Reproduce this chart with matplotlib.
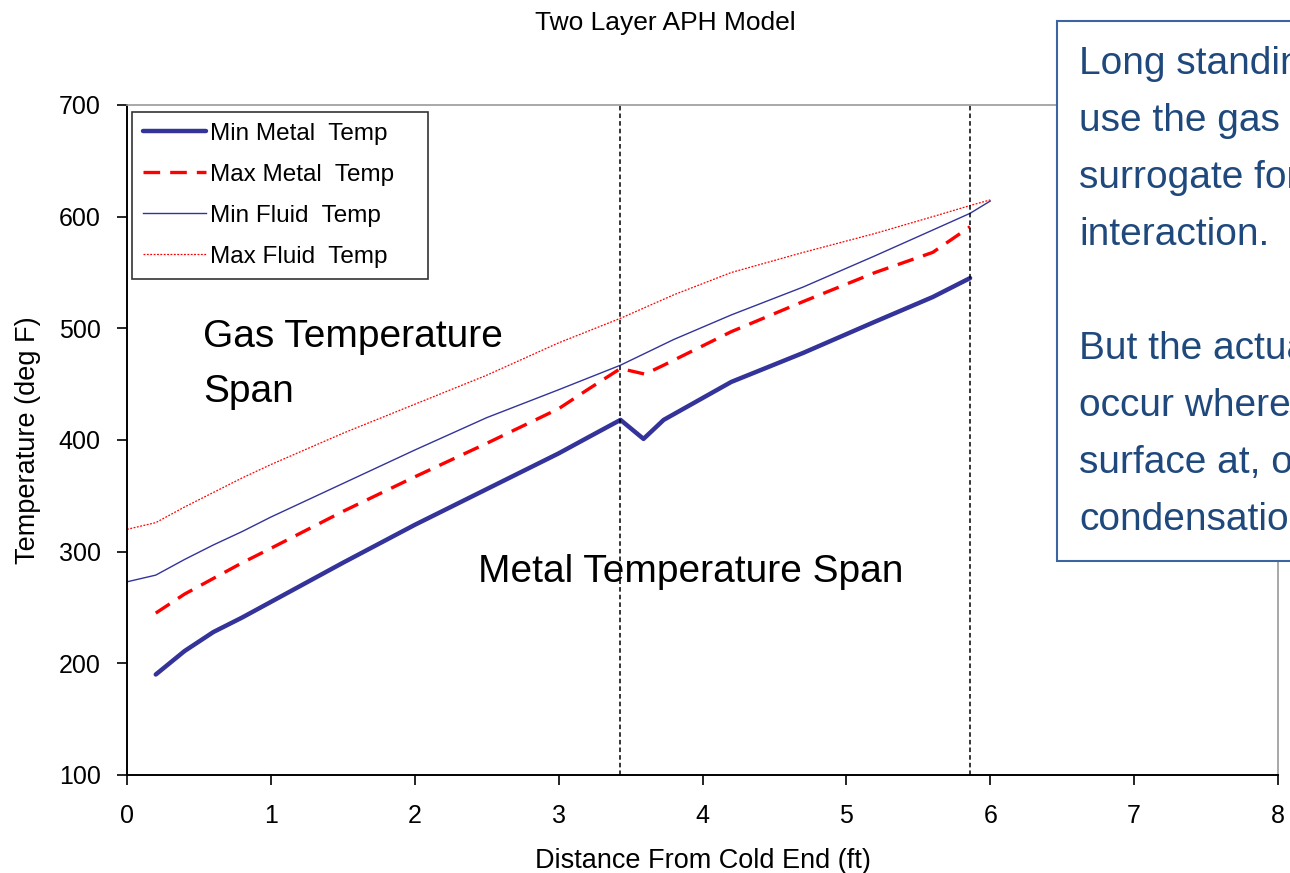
import matplotlib.pyplot as plt
from matplotlib.patches import Rectangle

plt.rcParams['font.family'] = ['Liberation Sans', 'DejaVu Sans']

# data
x_min_metal = [0.2, 0.4, 0.6, 0.8, 1.0, 1.5, 2.0, 2.5, 3.0, 3.2, 3.43, 3.59, 3.73, 4.2, 4.7, 5.2, 5.6, 5.86]
min_metal = [190, 211, 228, 241, 255, 290, 324, 356, 388, 402, 418, 401, 418, 452, 478, 506, 528, 545]

x_max_metal = [0.2, 0.4, 0.6, 0.8, 1.0, 1.5, 2.0, 2.5, 3.0, 3.2, 3.43, 3.6, 3.73, 4.2, 4.7, 5.2, 5.6, 5.86]
max_metal = [245, 262, 276, 290, 303, 336, 367, 397, 428, 445, 464, 459, 467, 497, 524, 550, 568, 591]

x_fluid = [0.0, 0.2, 0.4, 0.6, 0.8, 1.0, 1.5, 2.0, 2.5, 3.0, 3.43, 3.8, 4.2, 4.7, 5.2, 5.6, 5.86, 6.0]
min_fluid = [273, 279, 293, 306, 318, 331, 361, 391, 420, 445, 467, 490, 512, 537, 565, 588, 603, 614]
max_fluid = [320, 326, 340, 353, 366, 378, 406, 432, 458, 487, 509, 530, 550, 568, 585, 600, 610, 615]

section_breaks = [3.43, 5.86]

box_lines = ["Long standing", "use the gas", "surrogate for", "interaction.", "",
             "But the actual", "occur where", "surface at, or", "condensation"]

navy = '#333399'
red = '#FF0000'

fig = plt.figure(figsize=(12.9, 8.73), dpi=100)
ax = fig.add_axes([127 / 1290, 1 - 775 / 873, (1278 - 127) / 1290, (775 - 105) / 873])

ax.plot(x_min_metal, min_metal, color=navy, lw=3.2, label='Min Metal  Temp',
        solid_capstyle='round')
ax.plot(x_max_metal, max_metal, color=red, lw=2.4, linestyle=(0, (5, 3)),
        label='Max Metal  Temp')
ax.plot(x_fluid, min_fluid, color=navy, lw=1.0, label='Min Fluid  Temp')
ax.plot(x_fluid, max_fluid, color=red, lw=0.9, linestyle=(0, (1.5, 1.2)),
        label='Max Fluid  Temp')

for xb in section_breaks:
    ax.axvline(xb, color='black', lw=1.1, linestyle=(0, (3, 2)))

ax.set_xlim(0, 8)
ax.set_ylim(100, 700)
ax.set_xticks(range(0, 9))
ax.set_yticks(range(100, 701, 100))
ax.tick_params(labelsize=18, direction='out', length=7, width=1.2)
ax.tick_params(axis='x', pad=14)
ax.tick_params(axis='y', pad=12)

for s in ['left', 'bottom']:
    ax.spines[s].set_color('black')
    ax.spines[s].set_linewidth(1.4)
for s in ['top', 'right']:
    ax.spines[s].set_color('#9a9a9a')
    ax.spines[s].set_linewidth(1.2)

ax.set_xlabel('Distance From Cold End (ft)', fontsize=19.5)
ax.set_ylabel('Temperature (deg F)', fontsize=19.5)
ax.xaxis.set_label_coords(0.5, -(848 - 775) / 670)
ax.yaxis.set_label_coords((41 - 127) / 1151, (775 - 440) / 670)
fig.text(665 / 1290, 1 - 23 / 873, 'Two Layer APH Model', fontsize=19,
         ha='center', va='center')

# legend box stretched to the width used in the reference
leg = ax.legend(loc='upper left',
                bbox_to_anchor=((132 - 127) / 1151, (775 - 278) / 670,
                                296 / 1151, (278 - 112) / 670),
                mode='expand', borderaxespad=0, fontsize=17.5, handlelength=2.6,
                handletextpad=0.15, labelspacing=0.78, borderpad=0.45,
                frameon=True, fancybox=False)
leg.get_frame().set_edgecolor('black')
leg.get_frame().set_linewidth(1.2)

ax.text(0.53, 508, 'Gas Temperature\nSpan', fontsize=28,
        ha='left', va='top', linespacing=1.67)
ax.text(2.44, 298, 'Metal Temperature Span', fontsize=28,
        ha='left', va='top')

# callout box running off the right edge, as in the reference
rect = Rectangle((1057 / 1290, 1 - 561 / 873), 0.5, (561 - 21) / 873,
                 transform=fig.transFigure, facecolor='white', edgecolor='#3C64A0',
                 lw=1.5, zorder=5)
fig.patches.append(rect)
fig.text(1079 / 1290, 1 - 46 / 873, '\n'.join(box_lines), fontsize=28,
         color='#1F497D', ha='left', va='top', linespacing=1.75, zorder=6)

fig.savefig('out.png', dpi=100)
